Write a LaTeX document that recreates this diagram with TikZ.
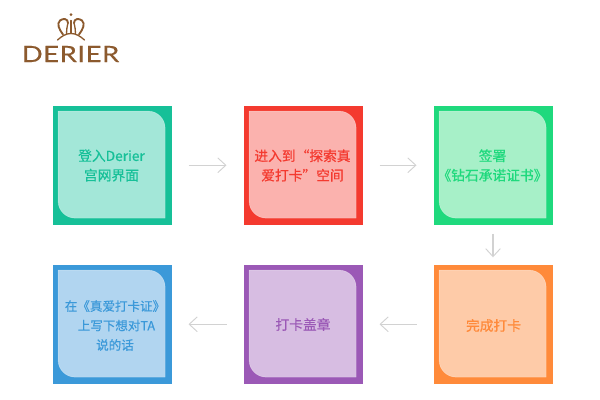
\documentclass[tikz,border=0pt]{standalone}
\usepackage{fontspec}
\usetikzlibrary{arrows.meta}
\setmainfont[FakeBold=0.6]{Noto Sans CJK SC}
\newfontfamily\logofont[FakeBold=0.3,LetterSpace=2]{Lato}
\definecolor{logoC}{HTML}{8C5A2E}
\definecolor{arrC}{HTML}{D2D2D2}
\definecolor{tealO}{HTML}{16C098}\definecolor{tealI}{HTML}{A3E7D8}
\definecolor{redO}{HTML}{F43A2F}\definecolor{redI}{HTML}{FBB2AE}
\definecolor{greenO}{HTML}{1FD97D}\definecolor{greenI}{HTML}{A7F0C8}
\definecolor{orangeO}{HTML}{FF8A3A}\definecolor{orangeI}{HTML}{FECBA8}
\definecolor{purpleO}{HTML}{9B59B6}\definecolor{purpleI}{HTML}{D7BDE2}
\definecolor{blueO}{HTML}{3B99D9}\definecolor{blueI}{HTML}{B1D5F0}
\tikzset{
 outerbox/.style={minimum width=89.25pt,minimum height=89.25pt,inner sep=0pt,outer sep=0pt,draw=none},
 label/.style={font=\fontsize{10.3pt}{14.6pt}\selectfont,align=center,inner sep=0pt},
 flow/.style={draw=arrC,line width=0.8pt,shorten >=12.75pt,shorten <=12.75pt,-{Straight Barb[length=6pt,width=11pt,line width=0.7pt]}},
 flowdown/.style={flow,shorten <=6.75pt,shorten >=5.6pt},
}
\newcommand{\innerpanel}[3]{%
 \filldraw[fill=#3,draw=white,draw opacity=0.35,line width=0.4pt] (#1-53.5,#2-53.5) -- (#1+36.5,#2-53.5) arc[start angle=270,end angle=360,radius=17] -- (#1+53.5,#2+53.5) -- (#1-36.5,#2+53.5) arc[start angle=90,end angle=180,radius=17] -- cycle;}
\begin{document}
\begin{tikzpicture}[x=0.75pt,y=-0.75pt]
\useasboundingbox (0,0) rectangle (600,400);
\fill[white] (0,0) rectangle (600,400);
\node[outerbox,fill=tealO] (a) at (112,165.25) {};
\innerpanel{111.6}{164.6}{tealI}
\node[outerbox,fill=redO] (b) at (303,165.25) {};
\innerpanel{302.6}{164.6}{redI}
\node[outerbox,fill=greenO] (c) at (493,165.25) {};
\innerpanel{492.6}{164.6}{greenI}
\node[outerbox,fill=orangeO] (d) at (493,324.25) {};
\innerpanel{492.6}{323.6}{orangeI}
\node[outerbox,fill=purpleO] (e) at (303,324.25) {};
\innerpanel{302.6}{323.6}{purpleI}
\node[outerbox,fill=blueO] (f) at (112,324.25) {};
\innerpanel{111.6}{323.6}{blueI}
\node[label,text=tealO] (ta) at (111.5,165.5) {登入Derier\\宫网界面};
\node[label,text=redO] (tb) at (302.5,165.5) {进入到“探索真\\爱打卡”空间};
\node[label,text=greenO] (tc) at (492.5,165.5) {签署\\《钻石承诺证书》};
\node[label,text=orangeO] (td) at (493.5,325.5) {完成打卡};
\node[label,text=purpleO] (te) at (303,324.5) {打卡盖章};
\node[label,text=blueO,font=\fontsize{9.4pt}{14.6pt}\selectfont] (tf) at (115,325.5) {在《真爱打卡证》\\\ 上写下想对TA\\说的话};
\draw[flow] (a) -- (b);
\draw[flow] (b) -- (c);
\draw[flowdown] (c) -- (d);
\draw[flow] (d) -- (e);
\draw[flow] (e) -- (f);
% logo
\node[inner sep=0pt,text=logoC] (logo) at (70.5,54) {\resizebox{73pt}{12pt}{\logofont DERIER}};
\begin{scope}[draw=logoC,line width=1pt,line cap=round]
\fill[logoC] (71,14.5) circle (1.5);
\draw (57.5,40) .. controls (62,36) and (66,33.5) .. (71,33.5) .. controls (76,33.5) and (80,36) .. (84.5,40);
\draw[line width=1.4pt] (63,34.5) .. controls (59,29) and (56.5,24) .. (60,20.5) .. controls (63,18) and (68,18.5) .. (68,23);
\draw[line width=1.4pt] (79,34.5) .. controls (83,29) and (85.5,24) .. (82,20.5) .. controls (79,18) and (74,18.5) .. (74,23);
\draw (68,23) .. controls (67,27) and (66.5,30) .. (66.5,33.5);
\draw (74,23) .. controls (75,27) and (75.5,30) .. (75.5,33.5);
\draw (71,20.5) -- (71,33);
\end{scope}
\end{tikzpicture}
\end{document}
